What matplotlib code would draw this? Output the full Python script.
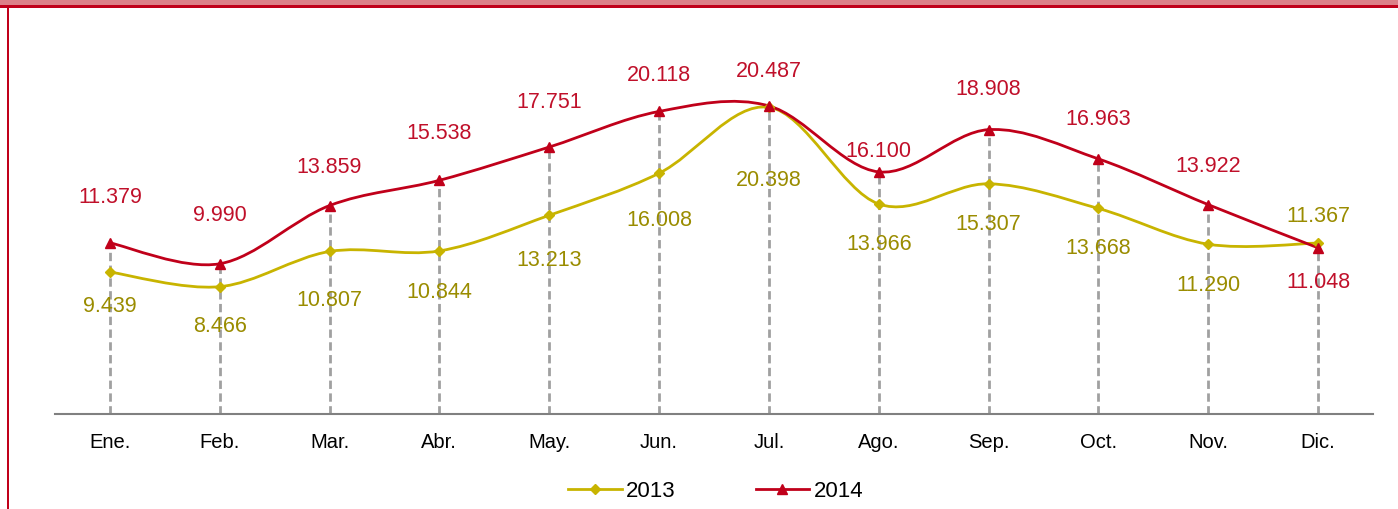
import matplotlib.pyplot as plt
from matplotlib.path import Path
from matplotlib.patches import PathPatch, Rectangle
from matplotlib.lines import Line2D
import numpy as np

plt.rcParams['font.family'] = ['Liberation Sans', 'DejaVu Sans']

months = ["Ene.", "Feb.", "Mar.", "Abr.", "May.", "Jun.", "Jul.", "Ago.", "Sep.", "Oct.", "Nov.", "Dic."]
v2013 = [9.439, 8.466, 10.807, 10.844, 13.213, 16.008, 20.398, 13.966, 15.307, 13.668, 11.290, 11.367]
v2014 = [11.379, 9.990, 13.859, 15.538, 17.751, 20.118, 20.487, 16.100, 18.908, 16.963, 13.922, 11.048]
labels2013 = ["9.439", "8.466", "10.807", "10.844", "13.213", "16.008", "20.398", "13.966", "15.307", "13.668", "11.290", "11.367"]
labels2014 = ["11.379", "9.990", "13.859", "15.538", "17.751", "20.118", "20.487", "16.100", "18.908", "16.963", "13.922", "11.048"]

# label offsets in pixels (manual placement, like the original)
off2013 = [-34, -40, -49, -42, -45, -47, -73, -41, -41, -40, -41, 27]
off2014 = [45, 48, 38, 47, 45, 36, 34, 20, 40, 39, 38, -35]

c13 = '#C8B400'
c13txt = '#9A8C00'
c14 = '#C0001A'
c14txt = '#C0102A'
fs = 15.5


def smooth_path(xs, ys):
    # bezier smoothing similar to spreadsheet "smoothed line"
    pts = np.column_stack([xs, ys]).astype(float)
    n = len(pts)
    verts = [pts[0]]
    codes = [Path.MOVETO]
    for i in range(n - 1):
        p0 = pts[i - 1] if i > 0 else pts[i]
        p1 = pts[i]
        p2 = pts[i + 1]
        p3 = pts[i + 2] if i + 2 < n else pts[i + 1]
        c1 = p1 + (p2 - p0) / 6.0
        c2 = p2 - (p3 - p1) / 6.0
        verts += [c1, c2, p2]
        codes += [Path.CURVE4] * 3
    return Path(verts, codes)


fig = plt.figure(figsize=(13.98, 5.09), dpi=100)
ax = fig.add_axes([0.0393, 0.1866, 0.9428, 0.7387])

x = np.arange(len(months))
ax.set_xlim(-0.5, len(months) - 0.5)
ax.set_ylim(0, 25)

# drop lines
for xi, a, b in zip(x, v2013, v2014):
    ax.plot([xi, xi], [0, max(a, b)], color='#A0A0A0', lw=2, ls=(0, (3, 1.6)), zorder=1)

ax.add_patch(PathPatch(smooth_path(x, v2013), fc='none', ec=c13, lw=2, zorder=2))
ax.add_patch(PathPatch(smooth_path(x, v2014), fc='none', ec=c14, lw=2, zorder=3))
ax.plot(x, v2013, ls='none', marker='D', ms=5, color=c13, zorder=4)
ax.plot(x, v2014, ls='none', marker='^', ms=7, color=c14, zorder=5)

for xi, v, t, o in zip(x, v2013, labels2013, off2013):
    ax.annotate(t, (xi, v), xytext=(0, o), textcoords='offset pixels',
                ha='center', va='center', color=c13txt, fontsize=fs)
for xi, v, t, o in zip(x, v2014, labels2014, off2014):
    ax.annotate(t, (xi, v), xytext=(0, o), textcoords='offset pixels',
                ha='center', va='center', color=c14txt, fontsize=fs)

for s in ['top', 'right', 'left']:
    ax.spines[s].set_visible(False)
ax.spines['bottom'].set_color('#808080')
ax.spines['bottom'].set_linewidth(1.5)
ax.set_yticks([])
ax.set_xticks(x)
ax.set_xticklabels(months, fontsize=14.5)
ax.tick_params(axis='x', length=0, pad=14)

handles = [Line2D([], [], color=c13, lw=2, marker='D', ms=5),
           Line2D([], [], color=c14, lw=2, marker='^', ms=7)]
fig.legend(handles, ['2013', '2014'], loc='center', bbox_to_anchor=(0.512, 0.035),
           ncol=2, frameon=False, fontsize=16, handlelength=2.4,
           handletextpad=0.2, columnspacing=3.6)

# frame decoration
fig.add_artist(Rectangle((0, 1 - 5 / 509), 1, 5 / 509, transform=fig.transFigure,
                         fc='#DC8088', ec='none'))
fig.add_artist(Rectangle((0, 1 - 7.5 / 509), 1, 2.5 / 509, transform=fig.transFigure,
                         fc=c14, ec='none'))
fig.add_artist(Rectangle((7 / 1398, 0), 2 / 1398, 1 - 5 / 509, transform=fig.transFigure,
                         fc=c14, ec='none'))

fig.savefig('out.png', dpi=100)
